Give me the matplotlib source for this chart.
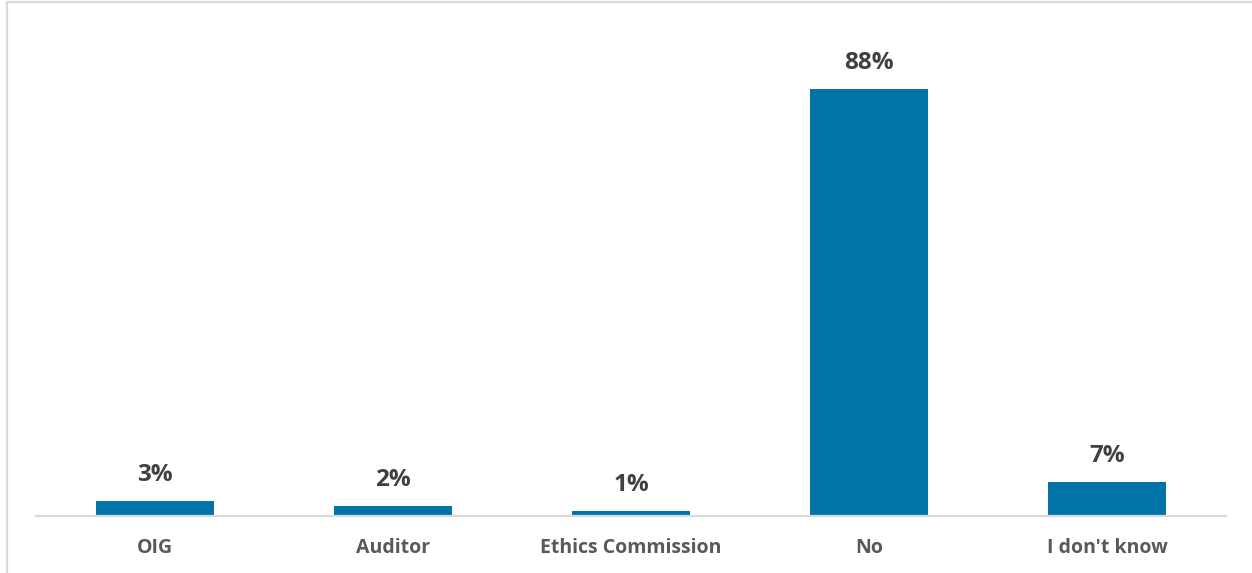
import matplotlib.pyplot as plt
from matplotlib.patches import Rectangle

categories = ["OIG", "Auditor", "Ethics Commission", "No", "I don't know"]
shares = [3, 2, 1, 88, 7]

W, H = 1252, 573
fig = plt.figure(figsize=(W / 100, H / 100), dpi=100)

# chart frame, clipped on the right and bottom edges
fig.patches.append(Rectangle((6.5 / W, -0.05), 1.1, 1 - 1.5 / H + 0.05,
                             transform=fig.transFigure, fill=False,
                             edgecolor="#d9d9d9", linewidth=1.6))

ax = fig.add_axes([36 / W, (H - 515.5) / H, 1190 / W, 485 / H])
x = range(len(categories))
ax.bar(x, shares, width=0.496, color="#0074a8")
ax.set_xlim(-0.5, len(categories) - 0.5)
ax.set_ylim(0, 100)

for xi, v in zip(x, shares):
    ax.annotate(f"{v}%", (xi, v), xytext=(0, 10), textcoords="offset points",
                ha="center", va="bottom", fontsize=17.5, fontweight="bold",
                color="#404040", family="Open Sans")

ax.set_xticks(list(x))
ax.set_xticklabels(categories, fontsize=14, fontweight="bold",
                   color="#595959", family="Open Sans")
ax.tick_params(axis="x", length=0, pad=16)
ax.set_yticks([])
for s in ["top", "left", "right"]:
    ax.spines[s].set_visible(False)
ax.spines["bottom"].set_color("#d9d9d9")
ax.spines["bottom"].set_linewidth(1.6)

fig.savefig("out.png", dpi=100)
